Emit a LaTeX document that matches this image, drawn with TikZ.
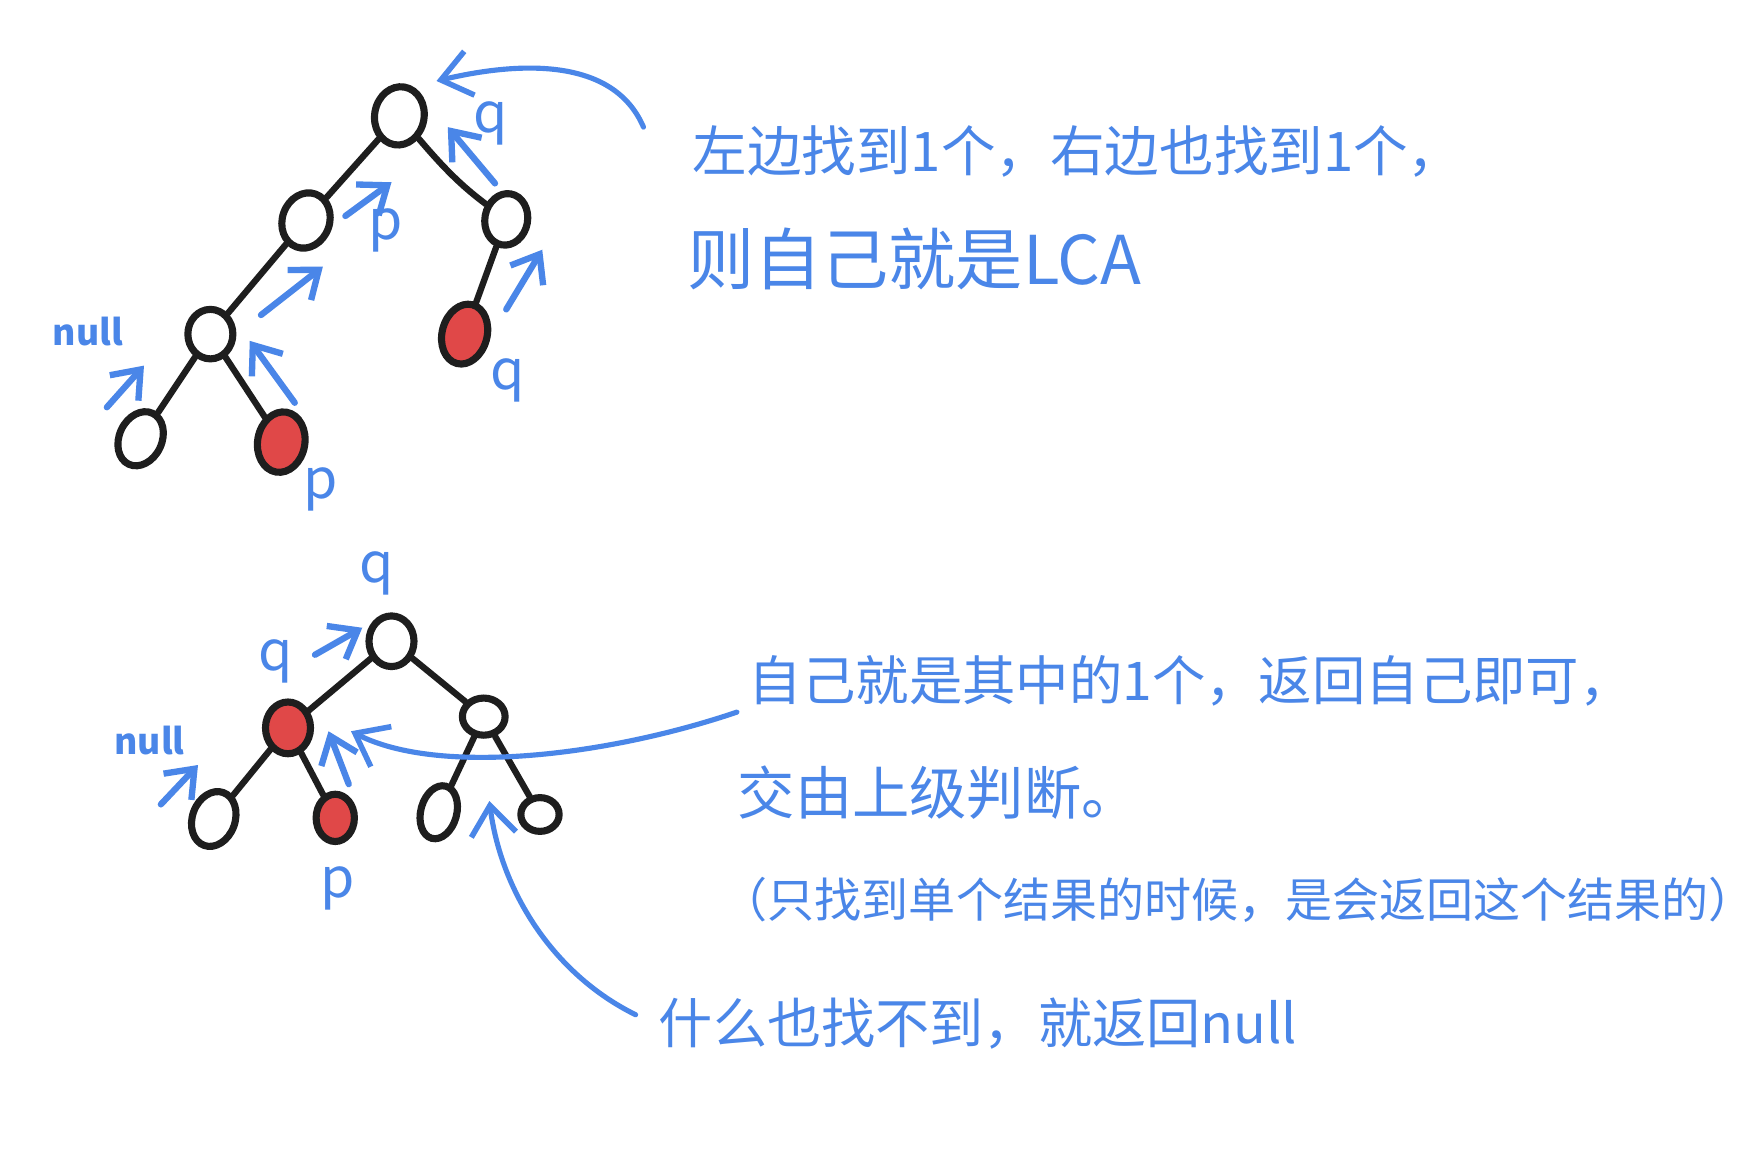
\documentclass[tikz,border=0pt]{standalone}
\usepackage{fontspec}
\setmainfont{Noto Sans CJK SC}
\usetikzlibrary{shapes.geometric,arrows.meta}
\definecolor{pen}{HTML}{4A86E8}
\definecolor{ink}{HTML}{1E1E1E}
\definecolor{fillred}{HTML}{E04848}
\begin{document}
\begin{tikzpicture}[x=0.1mm,y=-0.1mm,
  tnode/.style={ellipse,draw=ink,line width=1.8pt,inner sep=0pt},
  rnode/.style={tnode,fill=fillred},
  edge/.style={ink,line width=1.6pt,line cap=round},
  barrow/.style={pen,line width=1.6pt,line cap=round,-{Straight Barb[length=2.2mm,width=3.4mm,line width=1.6pt]}},
  bcurve/.style={pen,line width=1.3pt,line cap=round,-{Straight Barb[length=2.6mm,width=4mm,line width=1.4pt]}},
  blab/.style={text=pen,inner sep=0pt,font=\fontsize{14}{16}\selectfont},
  nlab/.style={text=pen,inner sep=0pt,font=\fontsize{9}{11}\selectfont\bfseries},
  note/.style={text=pen,anchor=west,inner sep=0pt}
]
\useasboundingbox[fill=white] (0,0) rectangle (1568,1024);

% ---------- tree 1 ----------
\node[tnode,minimum width=4.4mm,minimum height=5.2mm,rotate=-10] (r1) at (355,103) {};
\node[tnode,minimum width=4.2mm,minimum height=5.0mm,rotate=-20] (a1) at (272,196) {};
\node[tnode,minimum width=3.8mm,minimum height=4.6mm,rotate=-10] (b1) at (450,195) {};
\node[tnode,minimum width=4.0mm,minimum height=4.4mm] (c1) at (187,297) {};
\node[rnode,minimum width=4.0mm,minimum height=5.4mm,rotate=-15] (q1) at (413,297) {};
\node[tnode,minimum width=3.8mm,minimum height=5.0mm,rotate=-25] (d1) at (125,390) {};
\node[rnode,minimum width=4.2mm,minimum height=5.4mm,rotate=-10] (p1) at (250,393) {};

\draw[edge] (r1) -- (a1);
\draw[edge] (r1) .. controls (395,150) and (410,165) .. (b1);
\draw[edge] (a1) -- (c1);
\draw[edge] (c1) -- (d1);
\draw[edge] (c1) -- (p1);
\draw[edge] (b1) -- (q1);

\coordinate (t1s) at (572,113);
\coordinate (t1e) at (388,72);
\draw[bcurve] (t1s) .. controls (545,50) and (460,55) .. (t1e);

\coordinate (u1) at (440,163); \coordinate (v1) at (398,113);
\coordinate (u2) at (307,192); \coordinate (v2) at (348,162);
\coordinate (u3) at (232,280); \coordinate (v3) at (287,237);
\coordinate (u4) at (450,275); \coordinate (v4) at (482,222);
\coordinate (u5) at (95,362);  \coordinate (v5) at (128,325);
\coordinate (u6) at (262,358); \coordinate (v6) at (222,303);
\draw[barrow] (u1) -- (v1);
\draw[barrow] (u2) -- (v2);
\draw[barrow] (u3) -- (v3);
\draw[barrow] (u4) -- (v4);
\draw[barrow] (u5) -- (v5);
\draw[barrow] (u6) -- (v6);

\node[blab] (lq1) at (436,110) {q};
\node[blab] (lp1) at (343,205) {p};
\node[nlab] (ln1) at (78,295) {null};
\node[blab] (lq2) at (451,338) {q};
\node[blab] (lp2) at (285,435) {p};

% ---------- tree 2 ----------
\node[tnode,minimum width=4.0mm,minimum height=4.5mm] (r2) at (348,570) {};
\node[rnode,minimum width=4.0mm,minimum height=4.6mm] (a2) at (256,647) {};
\node[tnode,minimum width=3.8mm,minimum height=3.3mm] (b2) at (430,637) {};
\node[tnode,minimum width=3.8mm,minimum height=5.0mm,rotate=-20] (c2) at (190,728) {};
\node[rnode,minimum width=3.4mm,minimum height=4.2mm] (p2) at (298,727) {};
\node[tnode,minimum width=3.2mm,minimum height=4.8mm,rotate=-15] (d2) at (390,722) {};
\node[tnode,minimum width=3.4mm,minimum height=3.0mm] (e2) at (480,724) {};

\draw[edge] (r2) -- (a2);
\draw[edge] (r2) -- (b2);
\draw[edge] (a2) -- (c2);
\draw[edge] (a2) -- (p2);
\draw[edge] (b2) -- (d2);
\draw[edge] (b2) -- (e2);

\node[blab] (lq3) at (335,510) {q};
\node[blab] (lq4) at (245,588) {q};
\node[nlab] (ln2) at (133,658) {null};
\node[blab] (lp3) at (300,790) {p};

\coordinate (u7) at (280,582); \coordinate (v7) at (322,558);
\coordinate (u8) at (143,715); \coordinate (v8) at (176,680);
\coordinate (u9) at (310,697); \coordinate (v9) at (292,650);
\draw[barrow] (u7) -- (v7);
\draw[barrow] (u8) -- (v8);
\draw[barrow] (u9) -- (v9);

\coordinate (t2s) at (655,633);
\coordinate (t2e) at (312,650);
\draw[bcurve] (t2s) .. controls (540,672) and (390,690) .. (t2e);
\coordinate (t3s) at (565,902);
\coordinate (t3e) at (435,712);
\draw[bcurve] (t3s) .. controls (490,865) and (445,790) .. (t3e);

% ---------- notes ----------
\node[note,font=\fontsize{13.8}{16}\selectfont] (n1) at (615,135) {左边找到1个，右边也找到1个，};
\node[note,font=\fontsize{17}{19}\selectfont] (n2) at (610,230) {则自己就是LCA};
\node[note,font=\fontsize{13.5}{16}\selectfont] (n3) at (665,605) {自己就是其中的1个，返回自己即可，};
\node[note,font=\fontsize{14.5}{17}\selectfont] (n4) at (655,705) {交由上级判断。};
\node[note,font=\fontsize{11.9}{14}\selectfont] (n5) at (640,800) {（只找到单个结果的时候，是会返回这个结果的）};
\node[note,font=\fontsize{13.7}{16}\selectfont] (n6) at (585,910) {什么也找不到，就返回null};
\end{tikzpicture}
\end{document}
